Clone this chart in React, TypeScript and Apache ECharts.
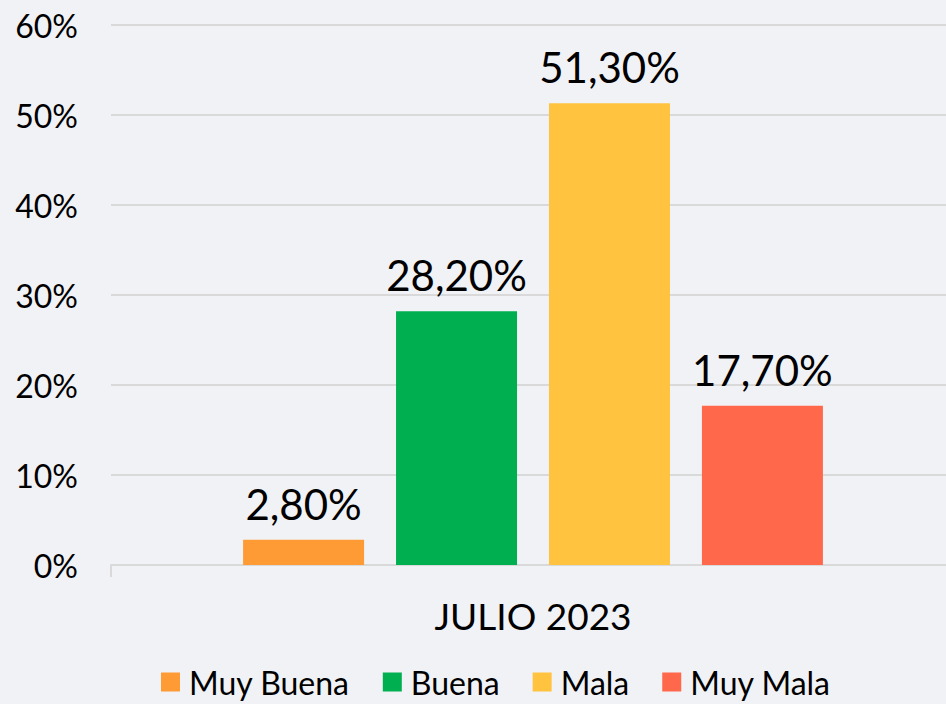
import React, { useEffect, useRef } from "react";
import * as echarts from "echarts";

const categories = ["JULIO 2023"];
const seriesNames = ["Muy Buena", "Buena", "Mala", "Muy Mala"];
const seriesValues = [[2.8], [28.2], [51.3], [17.7]];
const seriesColors = ["#FF9B35", "#00AF50", "#FFC340", "#FF684B"];
const yTicks = [0, 10, 20, 30, 40, 50, 60];

const FONT = "Lato";

export default function App() {
  const ref = useRef<HTMLDivElement>(null);
  useEffect(() => {
    if (!ref.current) return;
    const chart = echarts.init(ref.current, null, { renderer: "svg" });
    chart.setOption({
      animation: false,
      backgroundColor: "#F1F2F6",
      textStyle: { fontFamily: FONT },
      grid: { left: 111, right: 0, top: 25, bottom: 139, containLabel: false },
      legend: {
        bottom: 1,
        left: 156,
        icon: "rect",
        itemWidth: 19,
        itemHeight: 19,
        itemGap: 33,
        textStyle: { fontSize: 32, color: "#000", fontFamily: FONT, padding: [0, 0, 0, 4] },
        data: seriesNames,
      },
      xAxis: {
        type: "category",
        data: categories,
        axisLine: { show: true, lineStyle: { color: "#D9D9D9", width: 2 } },
        axisTick: { show: true, length: 12, lineStyle: { color: "#D9D9D9", width: 2 } },
        axisLabel: { fontSize: 37, color: "#000", margin: 32, fontFamily: FONT },
      },
      yAxis: {
        type: "value",
        min: yTicks[0],
        max: yTicks[yTicks.length - 1],
        interval: 10,
        axisLine: { show: false },
        axisTick: { show: false },
        splitLine: { lineStyle: { color: "#D9D9D9", width: 2 } },
        axisLabel: {
          fontSize: 32,
          color: "#000",
          margin: 33,
          fontFamily: FONT,
          formatter: (v: number) => `${v}%`,
        },
      },
      series: seriesNames.map((name, i) => ({
        name,
        type: "bar",
        data: seriesValues[i],
        barWidth: 121,
        barGap: "26.4%",
        itemStyle: { color: seriesColors[i] },
        label: {
          show: true,
          position: "top",
          distance: 15,
          fontSize: 42,
          color: "#000",
          fontFamily: FONT,
          formatter: (p: any) => `${Number(p.value).toFixed(2).replace(".", ",")}%`,
        },
      })),
    });
    return () => chart.dispose();
  }, []);
  return (
    <div style={{ width: 946, height: 704, position: "absolute", left: 0, top: 0, overflow: "hidden" }}>
      <div ref={ref} style={{ width: 955, height: 704 }} />
    </div>
  );
}
